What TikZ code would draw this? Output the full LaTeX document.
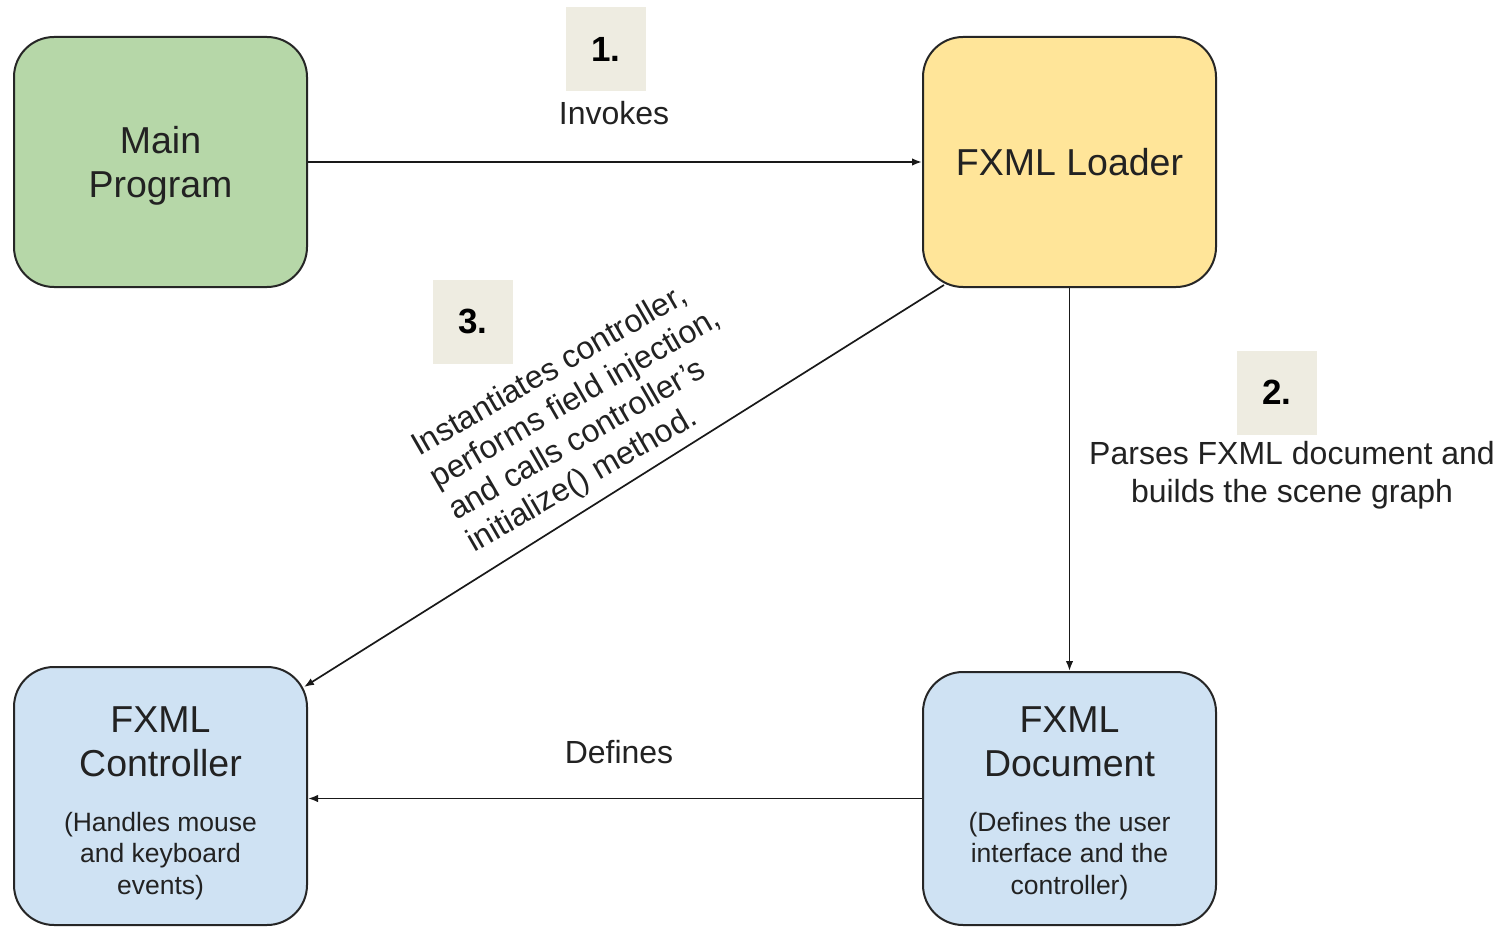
\documentclass[tikz,border=0pt]{standalone}
\usepackage{fontspec}
\setmainfont{Liberation Sans}
\usetikzlibrary{arrows.meta,calc}
\definecolor{greenfill}{HTML}{B6D7A8}
\definecolor{yellowfill}{HTML}{FFE599}
\definecolor{bluefill}{HTML}{CFE2F3}
\definecolor{numfill}{HTML}{EEECE1}
\definecolor{textcol}{HTML}{222222}
\begin{document}
\begin{tikzpicture}[x=1pt,y=-1pt,
  box/.style={draw=black!85, line width=2pt, rounded corners=40pt, minimum width=293pt, inner sep=0pt},
  titletext/.style={font=\fontsize{37.5}{44}\selectfont, align=center, text=textcol, inner sep=0pt},
  smalltext/.style={font=\fontsize{26.5}{31.5}\selectfont, align=center, text=textcol, inner sep=0pt},
  labeltext/.style={font=\fontsize{32}{38}\selectfont, align=center, text=textcol, inner sep=0pt},
  rottext/.style={font=\fontsize{32}{37}\selectfont, text=textcol, inner sep=0pt, rotate=30, anchor=base west},
  numbox/.style={fill=numfill, minimum width=80pt, minimum height=84pt, font=\bfseries\fontsize{35}{40}\selectfont, inner sep=0pt},
  conn/.style={line width=1.7pt, draw=black!90, -{Latex[length=10pt,width=7.5pt]}}
]
\useasboundingbox (0,0) rectangle (1512,928);
\fill[white] (0,0) rectangle (1512,928);

\node[box, fill=greenfill, minimum height=250pt] (main) at (160.5,162) {};
\node[box, fill=yellowfill, minimum height=250pt] (loader) at (1069.5,162) {};
\node[box, fill=bluefill, minimum height=258pt] (ctrl) at (160.5,796) {};
\node[box, fill=bluefill, minimum height=253pt] (doc) at (1069.5,798.5) {};

\node[titletext] (mainT) at (160.5,166) {Main\\Program};
\node[titletext] (loaderT) at (1069.5,162) {FXML Loader};
\node[titletext] (ctrlT) at (160.5,742) {FXML\\Controller};
\node[smalltext] (ctrlS) at (160.5,856) {(Handles mouse\\and keyboard\\events)};
\node[titletext] (docT) at (1069.5,742) {FXML\\Document};
\node[smalltext] (docS) at (1069.5,856) {(Defines the user\\interface and the\\controller)};

\draw[conn] (main.east) -- (loader.west);
\draw[conn] (loader.south) -- (doc.north);
\draw[conn] ($(loader.south west)+(22,-3)$) -- ($(ctrl.north east)+(-4,21)$);
\draw[conn] (doc.west) -- (doc.west -| ctrl.east);

\node[numbox] (n1) at (606,49.5) {1.};
\node[numbox] (n2) at (1277,392.5) {2.};
\node[numbox] (n3) at (473,321.5) {3.};

\node[labeltext] (inv) at (614,113) {Invokes};
\node[labeltext] (parse) at (1292,475) {Parses FXML document and\\builds the scene graph};
\node[labeltext] (def) at (619,752) {Defines};

\node[rottext] (inst1) at (419,457) {Instantiates controller,};
\node[rottext] (inst2) at (437.5,489) {performs field injection,};
\node[rottext] (inst3) at (456,521) {and calls controller’s};
\node[rottext] (inst4) at (474.5,553) {initialize() method.};
\end{tikzpicture}
\end{document}
